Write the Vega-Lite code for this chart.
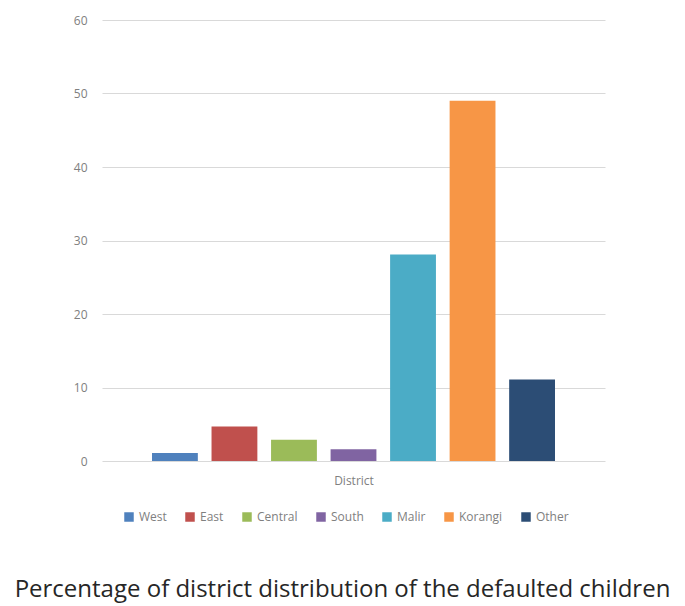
{
  "$schema": "https://vega.github.io/schema/vega-lite/v6.json",
  "autosize": "none",
  "width": 503,
  "height": 441,
  "padding": {"left": 102, "top": 20, "right": 80, "bottom": 145},
  "background": "white",
  "data": {"values": [
    {"Region": "West", "Percent": 1.1},
    {"Region": "East", "Percent": 4.7},
    {"Region": "Central", "Percent": 2.9},
    {"Region": "South", "Percent": 1.6},
    {"Region": "Malir", "Percent": 28.1},
    {"Region": "Korangi", "Percent": 49.0},
    {"Region": "Other", "Percent": 11.1}
  ]},
  "title": {
    "text": "Percentage of district distribution of the defaulted children",
    "orient": "bottom",
    "frame": "group",
    "anchor": "middle",
    "baseline": "alphabetic",
    "offset": 74,
    "dx": -11,
    "font": "Open Sans",
    "fontSize": 24,
    "fontWeight": "normal",
    "color": "#262626"
  },
  "mark": {"type": "bar"},
  "encoding": {
    "x": {
      "field": "Region",
      "type": "nominal",
      "sort": null,
      "scale": {"paddingInner": 0.23, "paddingOuter": 0.84},
      "axis": {
        "title": "District",
        "labels": false,
        "ticks": false,
        "domain": false,
        "grid": false,
        "titlePadding": 14,
        "titleFont": "Open Sans",
        "titleFontSize": 12,
        "titleFontWeight": "normal",
        "titleColor": "#808080"
      }
    },
    "y": {
      "field": "Percent",
      "type": "quantitative",
      "scale": {"domain": [0, 60]},
      "axis": {
        "title": null,
        "values": [0, 10, 20, 30, 40, 50, 60],
        "domain": false,
        "ticks": false,
        "labelPadding": 15,
        "labelFont": "Open Sans",
        "labelFontSize": 12,
        "labelColor": "#808080",
        "gridColor": "#d9d9d9",
        "gridWidth": 1.2
      }
    },
    "color": {
      "field": "Region",
      "type": "nominal",
      "sort": null,
      "scale": {
        "domain": ["West", "East", "Central", "South", "Malir", "Korangi", "Other"],
        "range": ["#4F81BD", "#C0504D", "#9BBB59", "#8064A2", "#4BACC6", "#F79646", "#2C4D75"]
      },
      "legend": {
        "title": null,
        "orient": "none",
        "direction": "horizontal",
        "legendX": 21,
        "legendY": 491,
        "padding": 0,
        "symbolType": "square",
        "symbolSize": 90,
        "symbolStrokeWidth": 0,
        "labelFont": "Open Sans",
        "labelFontSize": 12,
        "labelColor": "#808080",
        "labelOffset": 4,
        "columnPadding": 17
      }
    }
  },
  "config": {"view": {"stroke": null}}
}
